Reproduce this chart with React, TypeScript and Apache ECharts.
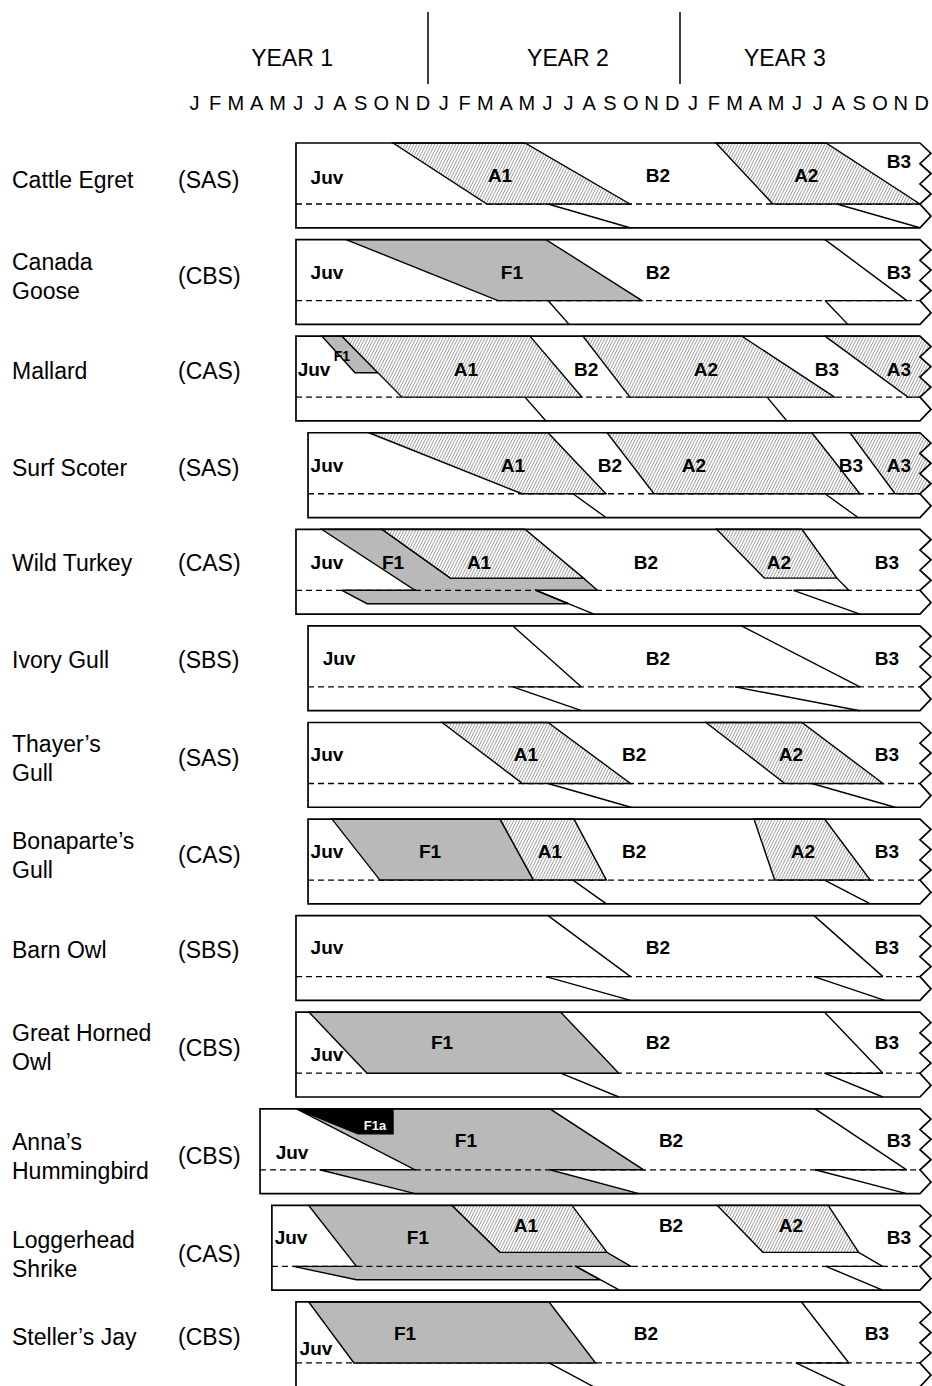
import React, { useEffect, useRef } from 'react';
import * as echarts from 'echarts';

type Pt = [number, number];

// ---- axis texts ----
const months = [...'JFMAMJJASOND', ...'JFMAMJJASOND', ...'JFMAMJJASOND'];
const yearLabels = ['YEAR 1', 'YEAR 2', 'YEAR 3'];
const yearLabelAt = [5.2, 18.48, 28.92];
const yearDividers = [11.74, 23.87];

// ---- rows ----
const species = [
  'Cattle Egret', 'Canada\nGoose', 'Mallard', 'Surf Scoter', 'Wild Turkey', 'Ivory Gull',
  'Thayer\u2019s\nGull', 'Bonaparte\u2019s\nGull', 'Barn Owl', 'Great Horned\nOwl',
  'Anna\u2019s\nHummingbird', 'Loggerhead\nShrike', 'Steller\u2019s Jay',
];
const strategies = ['(SAS)', '(CBS)', '(CAS)', '(SAS)', '(CAS)', '(SBS)', '(SAS)', '(CAS)', '(SBS)', '(CBS)', '(CBS)', '(CAS)', '(CBS)'];
const nameDepth = [0.6, 0.6, 0.57, 0.57, 0.56, 0.56, 0.59, 0.59, 0.56, 0.58, 0.78, 0.8, 0.57];
const boxStart = [5.39, 5.39, 5.39, 5.97, 5.39, 5.97, 5.97, 5.97, 5.39, 5.39, 3.66, 4.23, 5.39];
const boxEnd = 35.42;
const zigPeak = 35.95;
const zigValleys = [0, 0.34, 0.67, 1.0, 1.39];
const zigPeaks = [0.17, 0.5, 0.835, 1.2];

// ---- shapes: [row, vertices as [month, depth]] (depth 0 = top, 1 = dashed line, 1.39 = bottom) ----
const grayFills: [number, Pt[]][] = [
  [1, [[7.8, 0], [17.42, 0], [22.04, 1], [15.11, 1]]],
  [2, [[6.64, 0], [7.6, 0], [9.34, 0.6], [8.23, 0.6]]],
  [4, [[6.62, 0], [9.53, 0], [12.82, 0.8], [19.23, 0.8], [19.9, 1], [11.12, 1]]],
  [4, [[7.6, 1], [16.94, 1], [18.51, 1.22], [8.81, 1.22]]],
  [7, [[7.12, 0], [15.21, 0], [16.82, 1], [9.43, 1]]],
  [9, [[6.02, 0], [18.13, 0], [20.93, 1], [8.81, 1]]],
  [10, [[5.42, 0], [17.61, 0], [22.12, 1], [11.12, 1]]],
  [10, [[6.53, 1], [17.61, 1], [21.9, 1.39], [11.12, 1.39]]],
  [11, [[6.0, 0], [12.9, 0], [15.21, 0.77], [20.36, 0.77], [21.51, 1], [8.3, 1]]],
  [11, [[5.27, 1], [18.86, 1], [20.04, 1.22], [8.3, 1.22]]],
  [12, [[6.0, 0], [17.57, 0], [19.81, 1], [8.18, 1]]],
];
const hatchFills: [number, Pt[]][] = [
  [0, [[10.06, 0], [16.41, 0], [21.46, 1], [14.58, 1]]],
  [0, [[25.6, 0], [30.9, 0], [35.42, 1], [28.34, 1]]],
  [2, [[7.6, 0], [16.65, 0], [19.15, 1], [10.49, 1]]],
  [2, [[19.2, 0], [26.85, 0], [31.31, 1], [21.46, 1]]],
  [2, [[30.85, 0], [35.95, 0], [35.95, 1], [34.84, 1]]],
  [3, [[8.9, 0], [17.52, 0], [20.31, 1], [16.27, 1]]],
  [3, [[20.36, 0], [30.22, 0], [32.53, 1], [22.62, 1]]],
  [3, [[32.05, 0], [35.95, 0], [35.95, 1], [34.22, 1]]],
  [4, [[9.53, 0], [16.41, 0], [19.23, 0.8], [12.82, 0.8]]],
  [4, [[25.63, 0], [29.74, 0], [31.42, 0.8], [27.93, 0.8]]],
  [6, [[12.42, 0], [17.52, 0], [21.49, 1], [16.29, 1]]],
  [6, [[25.12, 0], [29.74, 0], [33.64, 1], [28.92, 1]]],
  [7, [[15.21, 0], [18.77, 0], [20.33, 1], [16.82, 1]]],
  [7, [[27.43, 0], [30.83, 0], [33.03, 1], [28.43, 1]]],
  [11, [[12.9, 0], [18.67, 0], [20.36, 0.77], [15.21, 0.77]]],
  [11, [[25.67, 0], [31.01, 0], [32.47, 0.77], [27.86, 0.77]]],
];
const blackFills: [number, Pt[]][] = [
  [10, [[5.42, 0], [10.06, 0], [10.06, 0.41], [8.37, 0.41]]],
];
const strokes: [number, Pt, Pt][] = [
  [0, [17.52, 1], [21.46, 1.39]],
  [0, [31.42, 1], [35.42, 1.39]],
  [1, [17.52, 1], [18.53, 1.39]],
  [1, [30.85, 0], [34.79, 1]],
  [1, [30.85, 1], [34.79, 1]],
  [1, [30.85, 1], [31.95, 1.39]],
  [2, [16.41, 1], [17.42, 1.39]],
  [2, [28.06, 1], [29.02, 1.39]],
  [3, [18.72, 1], [20.31, 1.39]],
  [3, [30.85, 1], [32.44, 1.39]],
  [4, [16.94, 1], [19.73, 1.39]],
  [4, [31.42, 0.8], [32.0, 1]],
  [4, [29.33, 1], [32.0, 1]],
  [4, [29.33, 1], [32.53, 1.39]],
  [5, [15.83, 0], [19.13, 1]],
  [5, [15.83, 1], [19.13, 1]],
  [5, [15.83, 1], [19.13, 1.39]],
  [5, [26.83, 0], [32.53, 1]],
  [5, [26.52, 1], [32.53, 1]],
  [5, [26.52, 1], [32.53, 1.39]],
  [6, [17.52, 1], [21.51, 1.39]],
  [6, [30.22, 1], [34.22, 1.39]],
  [7, [18.72, 1], [20.33, 1.39]],
  [7, [30.83, 1], [33.03, 1.39]],
  [8, [17.52, 0], [21.49, 1]],
  [8, [17.42, 1], [21.49, 1]],
  [8, [17.42, 1], [21.49, 1.39]],
  [8, [30.32, 0], [33.64, 1]],
  [8, [30.32, 1], [33.64, 1]],
  [8, [30.32, 1], [33.73, 1.39]],
  [9, [18.13, 1], [20.93, 1.39]],
  [9, [30.83, 0], [33.64, 1]],
  [9, [30.83, 1], [33.64, 1]],
  [9, [30.83, 1], [33.64, 1.39]],
  [10, [30.37, 0], [34.78, 1]],
  [10, [30.37, 1], [34.78, 1]],
  [10, [30.37, 1], [34.78, 1.39]],
  [11, [18.86, 1], [20.96, 1.39]],
  [11, [32.47, 0.77], [33.62, 1]],
  [11, [30.9, 1], [33.62, 1]],
  [11, [30.9, 1], [33.62, 1.39]],
  [12, [17.57, 1], [19.71, 1.39]],
  [12, [29.72, 0], [32.0, 1]],
  [12, [29.45, 1], [32.0, 1]],
  [12, [29.45, 1], [31.86, 1.39]],
];
// dashed line stretches where grey lies on both sides: [row, from, to]
const openDash: [number, number, number][] = [
  [4, 11.12, 16.94],
  [10, 11.12, 17.61],
  [11, 8.3, 18.86],
];

// ---- stage labels: [row, text, month, depth] ----
const stageLabels: [number, string, number, number][] = [
  [0, 'Juv', 6.88, 0.57], [0, 'A1', 15.21, 0.54], [0, 'B2', 22.81, 0.54], [0, 'A2', 29.95, 0.54], [0, 'B3', 34.41, 0.3],
  [1, 'Juv', 6.88, 0.54], [1, 'F1', 15.78, 0.54], [1, 'B2', 22.81, 0.54], [1, 'B3', 34.41, 0.54],
  [2, 'Juv', 6.26, 0.54], [2, 'A1', 13.57, 0.54], [2, 'B2', 19.35, 0.54], [2, 'A2', 25.12, 0.54], [2, 'B3', 30.94, 0.54], [2, 'A3', 34.41, 0.54],
  [3, 'Juv', 6.88, 0.54], [3, 'A1', 15.83, 0.54], [3, 'B2', 20.5, 0.54], [3, 'A2', 24.54, 0.54], [3, 'B3', 32.1, 0.54], [3, 'A3', 34.41, 0.54],
  [4, 'Juv', 6.88, 0.55], [4, 'F1', 10.06, 0.55], [4, 'A1', 14.2, 0.55], [4, 'B2', 22.23, 0.55], [4, 'A2', 28.63, 0.55], [4, 'B3', 33.83, 0.55],
  [5, 'Juv', 7.46, 0.53], [5, 'B2', 22.81, 0.53], [5, 'B3', 33.83, 0.53],
  [6, 'Juv', 6.88, 0.53], [6, 'A1', 16.46, 0.53], [6, 'B2', 21.66, 0.53], [6, 'A2', 29.21, 0.53], [6, 'B3', 33.83, 0.53],
  [7, 'Juv', 6.88, 0.53], [7, 'F1', 11.84, 0.53], [7, 'A1', 17.61, 0.53], [7, 'B2', 21.66, 0.53], [7, 'A2', 29.79, 0.53], [7, 'B3', 33.83, 0.53],
  [8, 'Juv', 6.88, 0.52], [8, 'B2', 22.81, 0.52], [8, 'B3', 33.83, 0.52],
  [9, 'Juv', 6.88, 0.7], [9, 'F1', 12.42, 0.49], [9, 'B2', 22.81, 0.49], [9, 'B3', 33.83, 0.49],
  [10, 'Juv', 5.2, 0.72], [10, 'F1', 13.57, 0.52], [10, 'B2', 23.44, 0.52], [10, 'B3', 34.41, 0.52],
  [11, 'Juv', 5.15, 0.53], [11, 'F1', 11.26, 0.53], [11, 'A1', 16.46, 0.33], [11, 'B2', 23.44, 0.33], [11, 'A2', 29.21, 0.33], [11, 'B3', 34.41, 0.53],
  [12, 'Juv', 6.35, 0.77], [12, 'F1', 10.64, 0.52], [12, 'B2', 22.23, 0.52], [12, 'B3', 33.35, 0.52],
];
const smallLabels: [number, string, number, number][] = [[2, 'F1', 7.6, 0.32]];
const reverseLabels: [number, string, number, number][] = [[10, 'F1a', 9.19, 0.28]];

const FONT = '"Liberation Sans", Arial, Helvetica, sans-serif';
const GRAY = '#b9b9b9';
const ROW_PX = 96.58;
const GRID_TOP = 143;
const GRID_H = 1386 - GRID_TOP;
const DS = 61 / ROW_PX;

function makeHatch(): HTMLCanvasElement {
  const w = 3;
  const h = 6;
  const c = document.createElement('canvas');
  c.width = w;
  c.height = h;
  const g = c.getContext('2d')!;
  g.fillStyle = '#ffffff';
  g.fillRect(0, 0, w, h);
  g.strokeStyle = '#9a9a9a';
  g.lineWidth = 1;
  g.beginPath();
  for (const o of [-w, 0, w]) {
    g.moveTo(o, h);
    g.lineTo(o + w, 0);
  }
  g.stroke();
  return c;
}

export default function App() {
  const ref = useRef<HTMLDivElement>(null);
  useEffect(() => {
    const chart = echarts.init(ref.current!, null, { renderer: 'svg' });
    const hatch = { image: makeHatch(), repeat: 'repeat', imageWidth: 3, imageHeight: 6 };

    const renderItem = (params: any, api: any) => {
      const r = api.value(1) as number;
      const pt = (x: number, d: number) => api.coord([x, r + d * DS]);
      const kids: any[] = [];
      const x0 = boxStart[r];
      const lineEl = (a: number[], b: number[], style: any) => ({
        type: 'line', shape: { x1: a[0], y1: a[1], x2: b[0], y2: b[1] }, style,
      });
      // dashed line
      kids.push(lineEl(pt(x0, 1), pt(boxEnd, 1), { stroke: '#000', lineWidth: 1.3, lineDash: [6, 4] }));
      const poly = (list: [number, Pt[]][], fill: any) => {
        list.filter((f) => f[0] === r).forEach((f) => {
          kids.push({
            type: 'polygon',
            shape: { points: f[1].map((p) => pt(p[0], p[1])) },
            style: { fill, stroke: '#000', lineWidth: 1.4, lineJoin: 'miter' },
          });
        });
      };
      poly(grayFills, GRAY);
      poly(hatchFills, hatch);
      poly(blackFills, '#000');
      openDash.filter((o) => o[0] === r).forEach((o) => {
        kids.push(lineEl(pt(o[1] + 0.05, 1), pt(o[2] - 0.05, 1), { stroke: GRAY, lineWidth: 3 }));
        kids.push(lineEl(pt(o[1], 1), pt(o[2], 1), { stroke: '#000', lineWidth: 1.3, lineDash: [6, 4] }));
      });
      strokes.filter((s) => s[0] === r).forEach((s) => {
        kids.push(lineEl(pt(s[1][0], s[1][1]), pt(s[2][0], s[2][1]), { stroke: '#000', lineWidth: 1.4 }));
      });
      // zigzag right edge
      const zig: number[][] = [];
      zigValleys.forEach((v, i) => {
        zig.push(pt(boxEnd, v));
        if (i < zigPeaks.length) zig.push(pt(zigPeak, zigPeaks[i]));
      });
      const far = 36.5;
      kids.push({
        type: 'polygon',
        shape: { points: [pt(boxEnd, -0.04), ...zig, pt(boxEnd, 1.43), pt(far, 1.43), pt(far, -0.04)] },
        style: { fill: '#fff', stroke: null },
      });
      kids.push({
        type: 'polygon',
        shape: { points: [pt(x0, 0), ...zig, pt(x0, 1.39)] },
        style: { fill: null, stroke: '#000', lineWidth: 1.7, lineJoin: 'miter' },
      });
      const txt = (list: [number, string, number, number][], size: number, color: string) => {
        list.filter((l) => l[0] === r).forEach((l) => {
          const p = pt(l[2], l[3]);
          kids.push({
            type: 'text', x: p[0], y: p[1],
            style: {
              text: l[1], fill: color, fontSize: size, fontWeight: 'bold', fontFamily: FONT,
              align: 'center', verticalAlign: 'middle',
            },
          });
        });
      };
      txt(stageLabels, 19, '#000');
      txt(smallLabels, 14, '#000');
      txt(reverseLabels, 13, '#fff');
      const ny = pt(0, nameDepth[r])[1];
      kids.push({
        type: 'text', x: 12, y: ny,
        style: { text: species[r], fill: '#000', fontSize: 23, fontFamily: FONT, align: 'left', verticalAlign: 'middle', lineHeight: 29 },
      });
      kids.push({
        type: 'text', x: 178, y: ny,
        style: { text: strategies[r], fill: '#000', fontSize: 23, fontFamily: FONT, align: 'left', verticalAlign: 'middle' },
      });
      return { type: 'group', children: kids };
    };

    chart.setOption({
      animation: false,
      backgroundColor: '#fff',
      textStyle: { fontFamily: FONT },
      grid: { left: 184, top: GRID_TOP, width: 748, height: GRID_H },
      xAxis: [
        { type: 'value', min: 0, max: 36, show: false },
        {
          type: 'category', data: months, position: 'top', boundaryGap: true,
          axisLine: { show: false }, axisTick: { show: false }, splitLine: { show: false },
          axisLabel: { interval: 0, margin: 30, fontSize: 20, color: '#000', fontFamily: FONT },
        },
        {
          type: 'value', min: 0, max: 36, position: 'top', offset: 59,
          axisLine: { show: false }, splitLine: { show: false },
          axisTick: { show: true, customValues: yearDividers, length: 72, lineStyle: { color: '#000', width: 1.5 } },
          axisLabel: {
            customValues: yearLabelAt, margin: 15, fontSize: 23, color: '#000', fontFamily: FONT,
            formatter: (v: number) => yearLabels[yearLabelAt.indexOf(v)] ?? '',
          },
        },
      ],
      yAxis: [{ type: 'value', min: 0, max: GRID_H / ROW_PX, inverse: true, show: false }],
      series: [
        {
          type: 'custom',
          xAxisIndex: 0,
          yAxisIndex: 0,
          renderItem,
          data: species.map((_, i) => [0, i]),
        },
      ],
    });
    return () => chart.dispose();
  }, []);
  return <div ref={ref} style={{ position: 'absolute', left: 0, top: 0, width: 932, height: 1386 }} />;
}
